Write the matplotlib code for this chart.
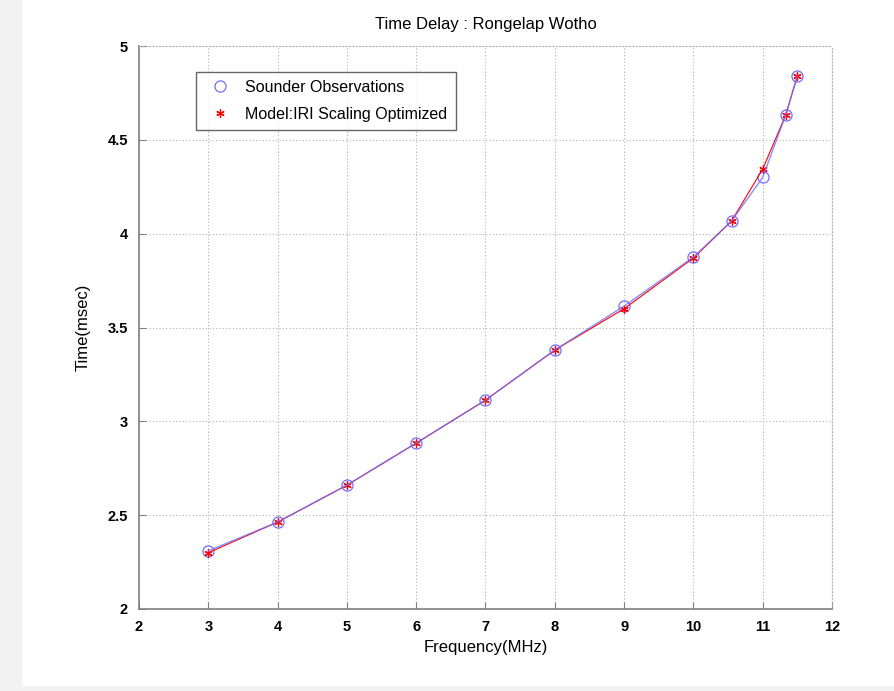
import numpy as np
import matplotlib
matplotlib.use('Agg')
import matplotlib.pyplot as plt
from matplotlib.patches import Rectangle

plt.rcParams['font.family'] = ['Liberation Sans', 'DejaVu Sans']

# frequencies (MHz)
freq = [3, 4, 5, 6, 7, 8, 9, 10, 10.55, 11, 11.33, 11.5]
# sounder observations (msec)
obs = [2.31, 2.463, 2.66, 2.884, 3.113, 3.38, 3.614, 3.875, 4.067, 4.30, 4.63, 4.84]
# model: IRI scaling optimized (msec)
model = [2.30, 2.463, 2.66, 2.884, 3.113, 3.38, 3.60, 3.87, 4.067, 4.344, 4.63, 4.84]

fig = plt.figure(figsize=(8.95, 6.91), dpi=100)
fig.patch.set_facecolor('white')
# light gray border strips like the screenshot
fig.patches.append(Rectangle((0, 0), 21/895, 1, transform=fig.transFigure,
                             color='#f3f3f3', zorder=-10))
fig.patches.append(Rectangle((0, 0), 1, 5/691, transform=fig.transFigure,
                             color='#f3f3f3', zorder=-10))

ax = fig.add_axes([139/895, 82/691, 693/895, 563/691])

blue = '#6f6fff'
# markers (legend entries)
ax.plot(freq, obs, ls='none', marker='o', ms=8, mfc='none', mec=blue,
        mew=0.9, label='Sounder Observations', zorder=3)
ax.plot(freq, model, ls='none', marker=(6, 2, 0), ms=6, mec='red', mew=0.9,
        label='Model:IRI Scaling Optimized', zorder=4)
# connecting lines
ax.plot(freq, model, color='red', lw=0.8, zorder=4)
ax.plot(freq, obs, color=blue, lw=1, alpha=0.8, zorder=5)

ax.set_xlim(2, 12)
ax.set_ylim(2, 5)
ax.set_xticks(range(2, 13))
ax.set_yticks([2, 2.5, 3, 3.5, 4, 4.5, 5])
ax.set_yticklabels(['2', '2.5', '3', '3.5', '4', '4.5', '5'])
ax.grid(True, color='#b0b0b0', linestyle=(0, (1, 2)), lw=0.8)

for s in ['top', 'right']:
    ax.spines[s].set_color('#b0b0b0')
    ax.spines[s].set_linestyle((0, (1, 2)))
for s in ['left', 'bottom']:
    ax.spines[s].set_color('#808080')
    ax.spines[s].set_linewidth(1.2)

ax.tick_params(direction='in', length=5, color='#808080', labelsize=10.5,
               top=False, right=False, pad=8)
for lab in ax.get_xticklabels() + ax.get_yticklabels():
    lab.set_fontweight('bold')

ax.set_title('Time Delay : Rongelap Wotho', fontsize=12, pad=12)
ax.set_xlabel('Frequency(MHz)', fontsize=12, labelpad=4)
ax.set_ylabel('Time(msec)', fontsize=12, labelpad=12)

leg = ax.legend(loc='upper left', bbox_to_anchor=(49/693, 1 - 18/563),
                fontsize=11.5, frameon=True, fancybox=False, edgecolor='#404040',
                borderpad=0.5, handlelength=2.0, handletextpad=0.6,
                labelspacing=0.75)
leg.get_frame().set_linewidth(1)

fig.savefig('out.png', dpi=100)
